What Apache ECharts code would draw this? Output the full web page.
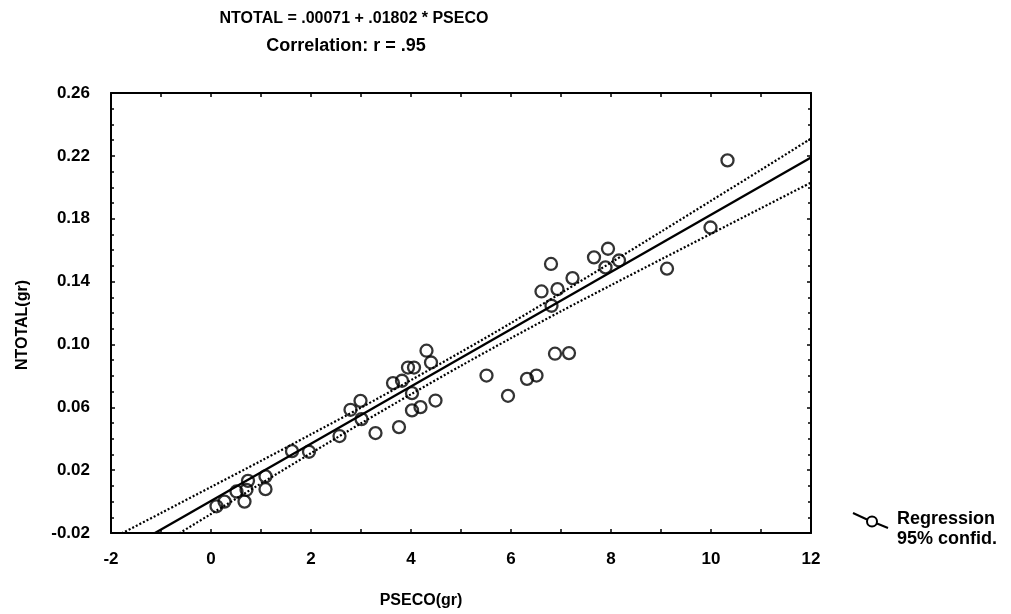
<!DOCTYPE html>
<html>
<head>
<meta charset="utf-8">
<script src="https://cdn.jsdelivr.net/npm/echarts@6/dist/echarts.min.js"></script>
<style>
  html, body { margin: 0; background: #fff; }
  #chart { width: 1011px; height: 614px; }
</style>
</head>
<body>
<div id="chart"></div>
<script>
var pseco = [0.11, 0.27, 0.51, 0.67, 0.74, 0.71, 1.09, 1.09, 1.62, 1.96, 2.57, 2.79, 3.01, 2.99, 3.29,
  3.76, 4.02, 4.02, 4.19, 4.49, 3.64, 3.82, 3.94, 4.06, 4.31, 4.40, 5.51, 5.94, 6.32, 6.51,
  6.88, 7.16, 6.81, 6.61, 6.93, 6.80, 7.23, 7.66, 7.94, 7.89, 8.16, 9.12, 9.99, 10.33];
var ntotal = [-0.003, 0.000, 0.0064, 0.000, 0.0132, 0.0075, 0.016, 0.0079, 0.0321, 0.0317, 0.0417, 0.0584, 0.0525, 0.0641, 0.0436,
  0.0474, 0.069, 0.058, 0.0601, 0.0643, 0.0754, 0.0769, 0.0853, 0.0853, 0.096, 0.0885, 0.0802, 0.0673, 0.0781, 0.0802,
  0.0941, 0.0945, 0.1246, 0.1337, 0.1352, 0.1512, 0.1422, 0.1554, 0.1609, 0.149, 0.1534, 0.1482, 0.1744, 0.2171];

// regression line ends
var regX = [-1.12, 12];
var regY = [-0.02, 0.219];

// 95% confidence band, read at whole x values
var bandX = [-2, -1, 0, 1, 2, 3, 4, 5, 6, 7, 8, 9, 10, 11, 12];
var bandUpper = [-0.0238, -0.0073, 0.0093, 0.0259, 0.0428, 0.0598, 0.0773, 0.0952, 0.1136, 0.1327, 0.1521, 0.1717, 0.1914, 0.2111, 0.2310];
var bandLower = [-0.0468, -0.0273, -0.0079, 0.0115, 0.0308, 0.0498, 0.0683, 0.0864, 0.1040, 0.1211, 0.1377, 0.1541, 0.1704, 0.1867, 0.2030];

var titleText = "NTOTAL = .00071 + .01802 * PSECO";
var subText = "Correlation: r = .95";
var legendText = ["Regression", "95% confid."];

function zip(a, b) {
  return a.map(function (v, i) { return [v, b[i]]; });
}

var font = "'Liberation Sans', Arial, sans-serif";

var myChart = echarts.init(document.getElementById("chart"));

var option = {
  animation: false,
  backgroundColor: "#fff",
  title: [
    { text: titleText, left: 349, top: 6, textAlign: "center",
      textStyle: { fontFamily: font, fontSize: 16, fontWeight: "bold", color: "#000" } },
    { text: subText, left: 341, top: 32, textAlign: "center",
      textStyle: { fontFamily: font, fontSize: 18, fontWeight: "bold", color: "#000" } }
  ],
  grid: { left: 111, right: 200, top: 93, bottom: 81, show: false },
  xAxis: [
    {
      type: "value", min: -2, max: 12, interval: 2,
      name: "PSECO(gr)", nameLocation: "middle", nameGap: 60,
      nameTextStyle: { fontFamily: font, fontSize: 16, fontWeight: "bold", color: "#000", padding: [0, 80, 0, 0] },
      axisLine: { show: true, onZero: false, lineStyle: { color: "#000", width: 2 } },
      axisTick: { show: true, inside: true, length: 4, lineStyle: { color: "#000", width: 1.5 } },
      minorTick: { show: true, splitNumber: 2, length: 4, lineStyle: { color: "#000", width: 1.5 } },
      axisLabel: { margin: 18, fontFamily: font, fontSize: 17, fontWeight: "bold", color: "#000",
        formatter: function (v) { return String(Math.round(v)); } },
      splitLine: { show: false }
    },
    {
      type: "value", position: "top", min: -2, max: 12, interval: 2,
      axisLine: { show: true, onZero: false, lineStyle: { color: "#000", width: 2 } },
      axisTick: { show: true, inside: true, length: 4, lineStyle: { color: "#000", width: 1.5 } },
      minorTick: { show: true, splitNumber: 2, length: 4, lineStyle: { color: "#000", width: 1.5 } },
      axisLabel: { show: false },
      splitLine: { show: false }
    }
  ],
  yAxis: [
    {
      type: "value", min: -0.02, max: 0.26, interval: 0.04,
      name: "NTOTAL(gr)", nameLocation: "middle", nameGap: 80, nameRotate: 90,
      nameTextStyle: { fontFamily: font, fontSize: 16, fontWeight: "bold", color: "#000", padding: [0, 24, 0, 0] },
      axisLine: { show: true, onZero: false, lineStyle: { color: "#000", width: 2 } },
      axisTick: { show: true, inside: true, length: 4, lineStyle: { color: "#000", width: 1.5 } },
      minorTick: { show: true, splitNumber: 4, length: 3, lineStyle: { color: "#000", width: 1.5 } },
      axisLabel: { margin: 21, fontFamily: font, fontSize: 17, fontWeight: "bold", color: "#000",
        formatter: function (v) { return v.toFixed(2); } },
      splitLine: { show: false }
    },
    {
      type: "value", position: "right", min: -0.02, max: 0.26, interval: 0.04,
      axisLine: { show: true, onZero: false, lineStyle: { color: "#000", width: 2 } },
      axisTick: { show: true, inside: true, length: 4, lineStyle: { color: "#000", width: 1.5 } },
      minorTick: { show: true, splitNumber: 4, length: 3, lineStyle: { color: "#000", width: 1.5 } },
      axisLabel: { show: false },
      splitLine: { show: false }
    }
  ],
  series: [
    {
      name: "95% upper", type: "line", smooth: 0.3, symbol: "none", clip: true,
      lineStyle: { color: "#000", width: 2.2, type: [2, 2] },
      data: zip(bandX, bandUpper), z: 2
    },
    {
      name: "95% lower", type: "line", smooth: 0.3, symbol: "none", clip: true,
      lineStyle: { color: "#000", width: 2.2, type: [2, 2] },
      data: zip(bandX, bandLower), z: 2
    },
    {
      name: "Regression", type: "line", symbol: "none", clip: true,
      lineStyle: { color: "#000", width: 2.4 },
      data: zip(regX, regY), z: 3
    },
    {
      name: "NTOTAL", type: "scatter", symbol: "circle", symbolSize: 12,
      itemStyle: { color: "rgba(0,0,0,0)", borderColor: "#000", borderWidth: 2.3 },
      data: zip(pseco, ntotal), z: 4
    }
  ],
  graphic: [
    { type: "line", shape: { x1: 853, y1: 513, x2: 867, y2: 519.5 }, style: { stroke: "#000", lineWidth: 2 } },
    { type: "circle", shape: { cx: 872, cy: 521.5, r: 5 }, style: { fill: "none", stroke: "#000", lineWidth: 2 } },
    { type: "line", shape: { x1: 877, y1: 523.5, x2: 888, y2: 528 }, style: { stroke: "#000", lineWidth: 2 } },
    { type: "text", left: 897, top: 510, style: { text: legendText[0], font: "bold 18px " + font, fill: "#000" } },
    { type: "text", left: 897, top: 530, style: { text: legendText[1], font: "bold 18px " + font, fill: "#000" } }
  ]
};

myChart.setOption(option);
</script>
</body>
</html>
